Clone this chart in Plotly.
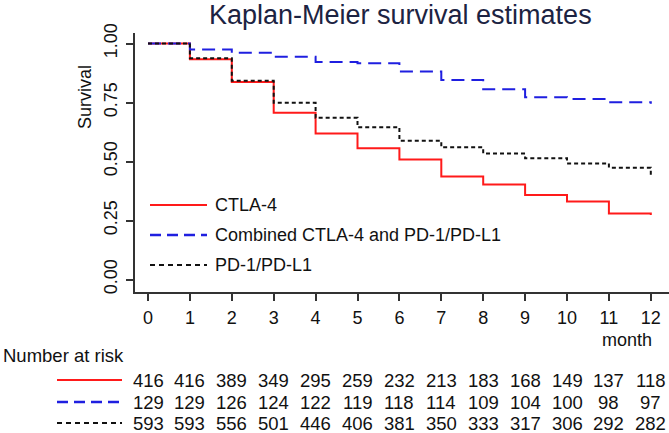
import plotly.graph_objects as go

# ---- data ----
months = [0, 1, 2, 3, 4, 5, 6, 7, 8, 9, 10, 11, 12]
surv_ctla4 = [1.0, 0.933, 0.837, 0.707, 0.619, 0.556, 0.509, 0.436, 0.403, 0.358, 0.330, 0.280, 0.273]
surv_combined = [1.0, 0.975, 0.961, 0.944, 0.922, 0.916, 0.881, 0.845, 0.806, 0.772, 0.765, 0.751, 0.745]
surv_pd1 = [1.0, 0.937, 0.842, 0.749, 0.685, 0.645, 0.588, 0.560, 0.534, 0.514, 0.492, 0.474, 0.439]

risk_ctla4 = [416, 416, 389, 349, 295, 259, 232, 213, 183, 168, 149, 137, 118]
risk_combined = [129, 129, 126, 124, 122, 119, 118, 114, 109, 104, 100, 98, 97]
risk_pd1 = [593, 593, 556, 501, 446, 406, 381, 350, 333, 317, 306, 292, 282]

series_names = ["CTLA-4", "Combined CTLA-4 and PD-1/PD-L1", "PD-1/PD-L1"]
y_ticks = [0.0, 0.25, 0.5, 0.75, 1.0]
y_tick_text = ["0.00", "0.25", "0.50", "0.75", "1.00"]

# ---- styles ----
W, H = 669, 433
L, R, T, B = 135, 0, 33, 141
FONT = "Liberation Sans, Arial, sans-serif"
RED = "#ff1a1a"
BLUE = "#1f1fe0"
BLACK = "#111111"
styles = [
    dict(color=RED, width=2, dash="solid"),
    dict(color=BLUE, width=2, dash="13px,7px"),
    dict(color=BLACK, width=2, dash="4px,3px"),
]
sample_styles = [
    dict(color=RED, width=2, dash="solid"),
    dict(color=BLUE, width=2.5, dash="11px,6px"),
    dict(color=BLACK, width=2, dash="5px,4px"),
]

def px_x(p):
    return (p - L) / (W - L - R)

def px_y(p):
    return (H - B - p) / (H - T - B)

fig = go.Figure()
for name, ys, st in zip(series_names, [surv_ctla4, surv_combined, surv_pd1], styles):
    fig.add_trace(go.Scatter(x=months, y=ys, mode="lines", name=name,
                             line=dict(shape="hv", **st), showlegend=False,
                             hoverinfo="x+y+name"))

shapes = []
annotations = []

# legend inside plot
leg_rows = [205, 235, 265]
for name, st, py in zip(series_names, sample_styles, leg_rows):
    shapes.append(dict(type="line", xref="paper", yref="paper",
                       x0=px_x(150), x1=px_x(207), y0=px_y(py), y1=px_y(py),
                       line=st))
    annotations.append(dict(text=name, xref="paper", yref="paper",
                            x=px_x(213), y=px_y(py), xanchor="left", yanchor="middle",
                            showarrow=False, font=dict(size=18, color=BLACK, family=FONT)))

# number at risk table
annotations.append(dict(text="Number at risk", xref="paper", yref="paper",
                        x=px_x(1), y=px_y(355), xanchor="left", yanchor="middle",
                        showarrow=False, font=dict(size=18.5, color=BLACK, family=FONT)))
risk_rows = [380, 402, 423]
for risks, st, py in zip([risk_ctla4, risk_combined, risk_pd1], sample_styles, risk_rows):
    shapes.append(dict(type="line", xref="paper", yref="paper",
                       x0=px_x(57), x1=px_x(122), y0=px_y(py), y1=px_y(py),
                       line=st))
    for m, n in zip(months, risks):
        annotations.append(dict(text=str(n), xref="x", yref="paper",
                                x=m, y=px_y(py), xanchor="center", yanchor="middle",
                                showarrow=False, font=dict(size=18.5, color=BLACK, family=FONT)))

# title, axis labels
annotations.append(dict(text="Kaplan-Meier survival estimates", xref="paper", yref="paper",
                        x=px_x(400), y=px_y(15), xanchor="center", yanchor="middle",
                        showarrow=False, font=dict(size=27, color="#1c2342", family=FONT)))
annotations.append(dict(text="Survival", xref="paper", yref="paper",
                        x=px_x(85), y=px_y(97), xanchor="center", yanchor="middle",
                        textangle=-90, showarrow=False,
                        font=dict(size=18, color=BLACK, family=FONT)))
annotations.append(dict(text="month", xref="paper", yref="paper",
                        x=px_x(654), y=px_y(340), xanchor="right", yanchor="middle",
                        showarrow=False, font=dict(size=18, color=BLACK, family=FONT)))

px_per_month = 41.9
x0_px = 148
x_range = [(L - x0_px) / px_per_month, (W - R - x0_px) / px_per_month]
y1_px, y0_px = 43.5, 279.5
ppu = y0_px - y1_px
y_range = [-(H - B - y0_px) / ppu, 1 + (y1_px - T) / ppu]

fig.update_layout(
    width=W, height=H,
    margin=dict(l=L, r=R, t=T, b=B, pad=0),
    paper_bgcolor="white", plot_bgcolor="white",
    font=dict(family=FONT, size=18, color=BLACK),
    shapes=shapes, annotations=annotations,
    xaxis=dict(range=x_range, tickmode="array", tickvals=months,
               ticktext=[str(m) for m in months],
               showgrid=False, zeroline=False, showline=True,
               linecolor="#333333", linewidth=1.5,
               ticks="outside", ticklen=7, tickwidth=1.5, tickcolor="#333333",
               tickfont=dict(size=18, color=BLACK, family=FONT),
               ticklabelstandoff=2, fixedrange=True),
    yaxis=dict(range=y_range, tickmode="array", tickvals=y_ticks, ticktext=y_tick_text,
               showgrid=False, zeroline=False, showline=True,
               linecolor="#333333", linewidth=1.5,
               ticks="outside", ticklen=7, tickwidth=1.5, tickcolor="#333333",
               tickangle=-90, tickfont=dict(size=18, color=BLACK, family=FONT),
               ticklabelstandoff=2, fixedrange=True),
)

fig.write_html("out.html", config={"displayModeBar": False},
               post_script="document.body.style.margin='0px';document.body.style.overflow='hidden';")
